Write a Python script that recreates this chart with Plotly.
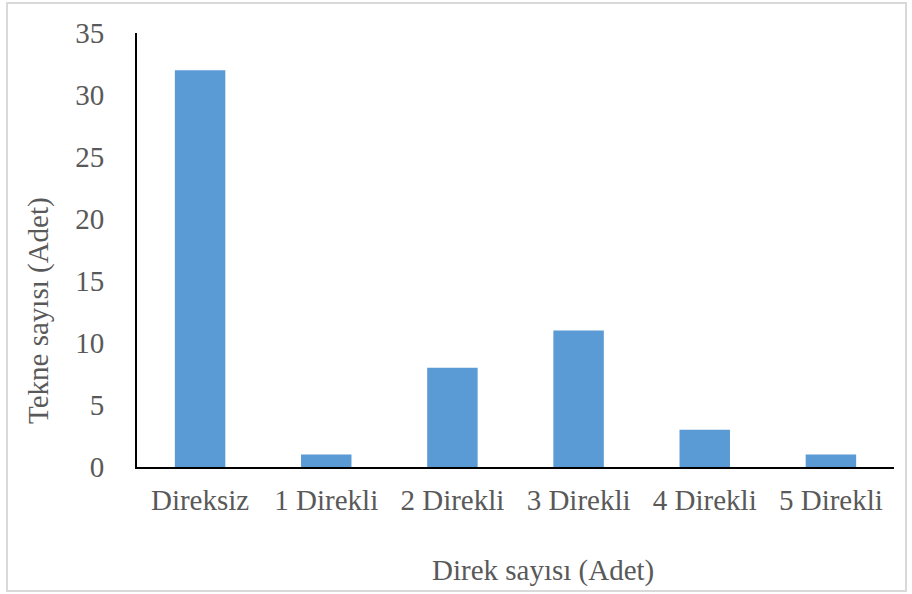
import plotly.graph_objects as go

categories = ["Direksiz", "1 Direkli", "2 Direkli", "3 Direkli", "4 Direkli", "5 Direkli"]
values = [32, 1, 8, 11, 3, 1]
y_ticks = [0, 5, 10, 15, 20, 25, 30, 35]

W, H = 912, 594
L, R, T, B = 137, 18, 33, 127
pw, ph = W - L - R, H - T - B

def px(x):
    return (x - L) / pw

def py(y):
    return (H - B - y) / ph

font = dict(family="Liberation Serif, Times New Roman, serif", size=29, color="#595959")

fig = go.Figure(go.Bar(x=categories, y=values, marker=dict(color="#5B9BD5", line=dict(width=0)), width=0.4))

fig.update_layout(
    width=W, height=H,
    margin=dict(l=L, r=R, t=T, b=B),
    paper_bgcolor="white", plot_bgcolor="white",
    showlegend=False,
    font=font,
    xaxis=dict(showline=True, linecolor="black", linewidth=2, ticks="", showgrid=False,
               tickfont=font, ticklabelstandoff=6, zeroline=False),
    yaxis=dict(range=[0, 35], tickvals=y_ticks, showline=True, linecolor="black", linewidth=2,
               ticks="", showgrid=False, zeroline=False, tickfont=font, ticklabelstandoff=25),
    shapes=[dict(type="rect", xref="paper", yref="paper",
                 x0=px(7), x1=px(906), y0=py(591), y1=py(3),
                 line=dict(color="#d9d9d9", width=2), fillcolor="rgba(0,0,0,0)", layer="below")],
    annotations=[
        dict(text="Direk sayısı (Adet)", xref="paper", yref="paper", x=px(543), y=py(570),
             showarrow=False, font=font, xanchor="center", yanchor="middle"),
        dict(text="Tekne sayısı (Adet)", xref="paper", yref="paper", x=px(38), y=py(311),
             showarrow=False, font=font, textangle=-90, xanchor="center", yanchor="middle"),
    ],
)

fig.write_html("out.html")
